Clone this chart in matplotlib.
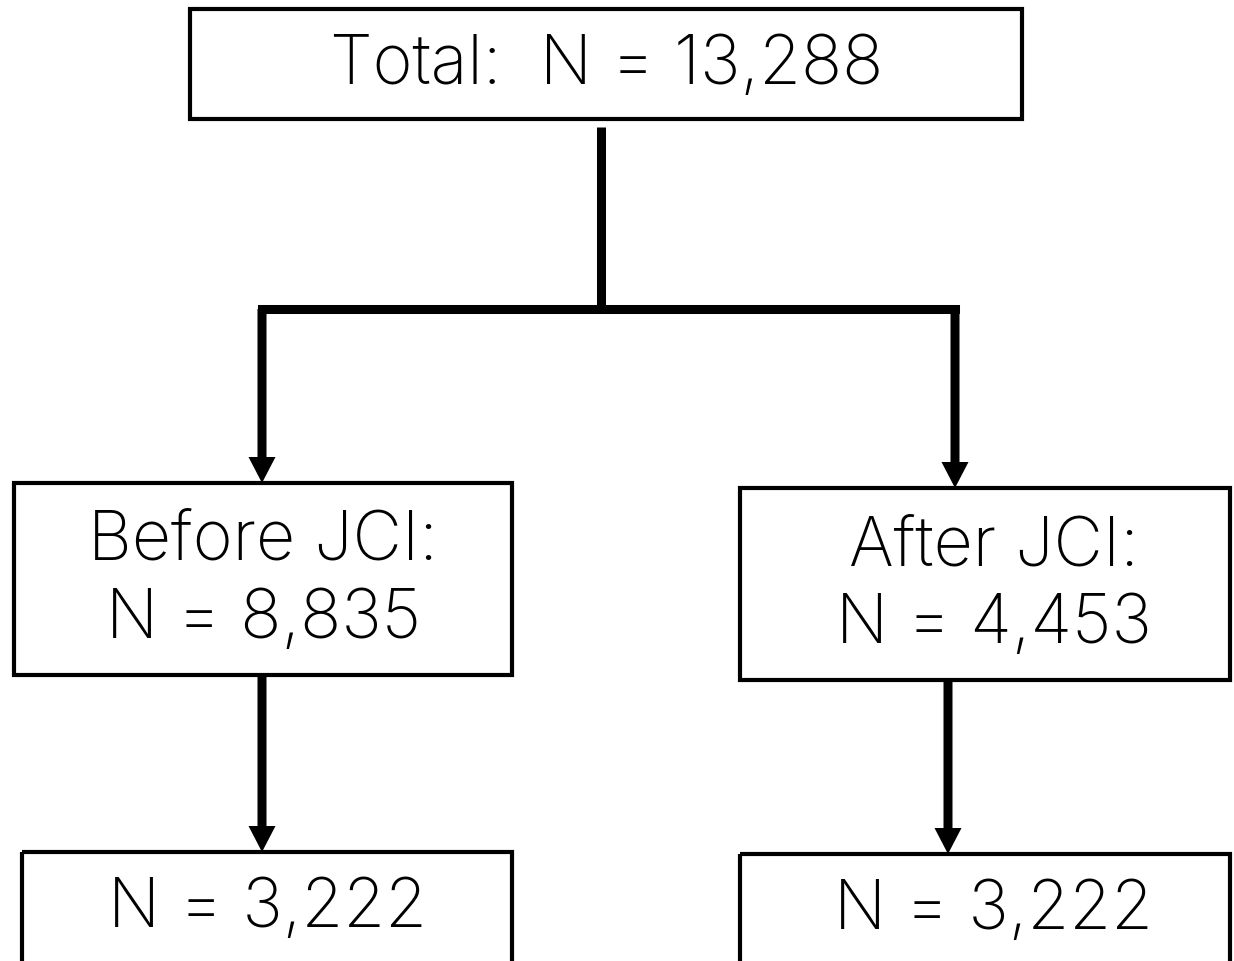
import matplotlib.pyplot as plt
from matplotlib.patches import Rectangle

plt.rcParams['font.family'] = ['Inter', 'DejaVu Sans']

# box texts and counts
labels = ["Total:  N = 13,288", "Before JCI:\nN = 8,835", "After JCI:\nN = 4,453",
          "N = 3,222", "N = 3,222"]
# box layout (x0, y0, x1, y1) in pixel units, y down
boxes = [(190, 10, 1022, 120), (14, 484, 512, 676), (740, 489, 1230, 681),
         (22, 853, 512, 990), (740, 855, 1230, 990)]
text_pos = [(607, 66), (263, 581), (994, 586), (268, 909), (994, 911)]

fig = plt.figure(figsize=(12.34, 9.62), dpi=100)
ax = fig.add_axes([0, 0, 1, 1])
ax.set_xlim(0, 1234)
ax.set_ylim(962, 0)
ax.axis('off')

for (x0, y0, x1, y1), lab, (tx, ty) in zip(boxes, labels, text_pos):
    ax.add_patch(Rectangle((x0, y0), x1 - x0, y1 - y0, fill=False, ec='black', lw=3,
                           joinstyle='miter'))
    ax.text(tx, ty, lab, ha='center', va='center', fontsize=49, fontweight='light',
            linespacing=1.28)

# connector from top box splitting into two branches
ax.plot([601, 601], [128, 310], color='black', lw=6.5, solid_capstyle='butt')
ax.plot([262, 955], [310, 310], color='black', lw=6.5, solid_capstyle='projecting')

arrows = [(262, 310, 484), (955, 310, 489), (262, 676, 853), (948, 681, 855)]
for x, ys, ye in arrows:
    ax.arrow(x, ys, 0, ye - ys, width=9, head_width=27, head_length=26,
             length_includes_head=True, fc='black', ec='none')

fig.savefig('out.png', dpi=100, facecolor='white')
